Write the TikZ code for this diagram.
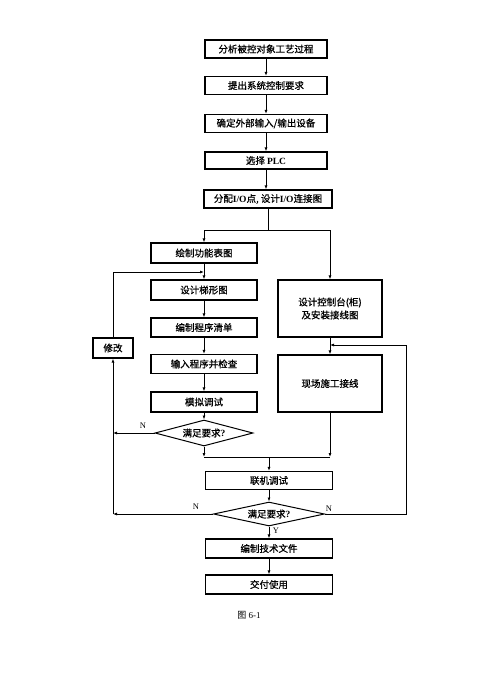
\documentclass[tikz,border=0pt]{standalone}
\usepackage{fontspec}
\setmainfont{Liberation Serif}
\newfontfamily\cjk{Noto Sans CJK SC}[BoldFont={Noto Sans CJK SC},BoldFeatures={FakeBold=0.8}]
\usetikzlibrary{arrows.meta,shapes.geometric}
\begin{document}
\begin{tikzpicture}[x=1pt,y=-1pt,
  box/.style={draw,line width=1.2pt,rectangle,inner sep=0pt,align=center,
    font=\cjk\bfseries\fontsize{9.5}{13}\selectfont},
  dia/.style={draw,line width=1pt,diamond,aspect=4,inner sep=0pt,
    font=\cjk\bfseries\fontsize{9.5}{11}\selectfont},
  ln/.style={line width=0.9pt},
  arr/.style={ln,-{Latex[length=4pt,width=3pt]}},
  lab/.style={font=\fontsize{8.5}{10}\selectfont,inner sep=0pt}]
\useasboundingbox[fill=white] (0,0) rectangle (499,691);

% top column
\node[box,minimum width=122,minimum height=18] (n1) at (266,49) {分析被控对象工艺过程};
\node[box,minimum width=122,minimum height=18] (n2) at (266,85.5) {提出系统控制要求};
\node[box,minimum width=122,minimum height=18] (n3) at (266,123.5) {确定外部输入/输出设备};
\node[box,minimum width=122,minimum height=17] (n4) at (266,160.5) {选择 {\rmfamily PLC}};
\node[box,minimum width=128,minimum height=18] (n5) at (268,199) {分配{\rmfamily I/O}点, 设计{\rmfamily I/O}连接图};
\draw[arr] (n1) -- (n2);
\draw[arr] (n2) -- (n3);
\draw[arr] (n3) -- (n4);
\draw[arr] (n4.south) -- (n4.south |- n5.north);

% split
\coordinate (jc) at (268,230);
\coordinate (jl) at (204,230);
\coordinate (jr) at (330,230);
\draw[ln] (n5.south) -- (jc);
\draw[ln] (jl) -- (jr);

% left column
\node[box,minimum width=106,minimum height=20] (L1) at (204,253) {绘制功能表图};
\node[box,minimum width=106,minimum height=20] (L2) at (204,290) {设计梯形图};
\node[box,minimum width=106,minimum height=19] (L3) at (204,327.5) {编制程序清单};
\node[box,minimum width=106,minimum height=19] (L4) at (204,364) {输入程序并检查};
\node[box,minimum width=106,minimum height=20] (L5) at (204,402) {模拟调试};
\node[dia,minimum width=98,minimum height=26] (D1) at (204,433) {满足要求{\rmfamily ?}};
\draw[arr] (jl) -- (L1.north);
\draw[arr] (L1) -- (L2);
\draw[arr] (L2) -- (L3);
\draw[arr] (L3) -- (L4);
\draw[arr] (L4) -- (L5);
\draw[arr] (L5) -- (D1);

% right column
\node[box,minimum width=104,minimum height=57] (R1) at (330,308.5) {设计控制台(柜)\\及安装接线图};
\node[box,minimum width=104,minimum height=57] (R2) at (330,383.5) {现场施工接线};
\draw[arr] (jr) -- (R1.north);
\draw[arr] (R1) -- (R2);

% merge
\coordinate (m1) at (204,457);
\coordinate (m2) at (330,457);
\coordinate (mc) at (269,457);
\draw[arr] (D1.south) -- (m1);
\draw[arr] (R2.south) -- (m2);
\draw[ln] (m1) -- (m2);

% bottom column
\node[box,minimum width=127,minimum height=18] (B1) at (269,480.5) {联机调试};
\node[dia,minimum width=111,minimum height=24] (D2) at (269,514) {满足要求{\rmfamily ?}};
\node[box,minimum width=127,minimum height=19] (B2) at (269,548.5) {编制技术文件};
\node[box,minimum width=127,minimum height=19] (B3) at (269,584.5) {交付使用};
\draw[arr] (mc) -- (B1.north);
\draw[arr] (B1) -- (D2);
\draw[arr] (D2) -- (B2);
\draw[arr] (B2) -- (B3);
\node[lab] (y) at (276,531) {Y};

% left loop
\node[box,minimum width=40,minimum height=20] (M) at (113,348) {修改};
\coordinate (lb) at (113,514);
\coordinate (lt) at (204,272);
\draw[arr] (D2.west) -- (lb);
\draw[arr] (D1.west) -- (D1.west -| lb);
\draw[arr] (lb) -- (M.south);
\draw[arr] (M.north) |- (lt);
\node[lab] (nl1) at (143,426) {N};
\node[lab] (nl2) at (196,507) {N};

% right loop
\coordinate (rb) at (406,514);
\coordinate (rt) at (406,345);
\coordinate (rc) at (330,345);
\draw[ln] (D2.east) -- (rb) -- (rt);
\draw[arr] (rt) -- (rc);
\node[lab] (nr) at (329,509) {N};

% caption
\node[font=\fontsize{9}{11}\selectfont,inner sep=0pt] (cap) at (249,615) {{\cjk 图} 6-1};
\end{tikzpicture}
\end{document}
